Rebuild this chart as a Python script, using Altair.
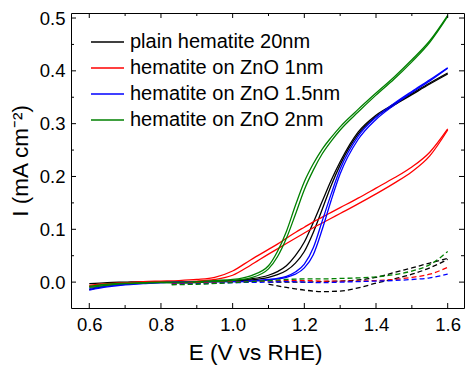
import altair as alt
import pandas as pd

# ---------------- data ----------------
series_names = ["plain hematite 20nm", "hematite on ZnO 1nm",
                "hematite on ZnO 1.5nm", "hematite on ZnO 2nm"]
series_colors = ["#000000", "#FF0000", "#0000FF", "#008000"]

# light (solid) curves: forward and reverse scan
E_light = [0.6, 0.65, 0.7, 0.75, 0.8, 0.85, 0.9, 0.95, 1.0, 1.05, 1.1, 1.125,
           1.15, 1.175, 1.2, 1.225, 1.25, 1.275, 1.3, 1.35, 1.4, 1.45, 1.5, 1.55, 1.6]

black_fwd = [-0.003, -0.001, 0.0, 0.001, 0.001, 0.001, 0.001, 0.002, 0.002, 0.004, 0.009, 0.014,
             0.022, 0.036, 0.058, 0.094, 0.138, 0.183, 0.222, 0.28, 0.313, 0.335, 0.355, 0.375, 0.394]
black_rev = [-0.014, -0.007, -0.003, -0.001, 0.0, 0.001, 0.001, 0.002, 0.003, 0.006, 0.013, 0.02,
             0.031, 0.05, 0.076, 0.113, 0.153, 0.193, 0.228, 0.284, 0.316, 0.337, 0.357, 0.377, 0.396]

red_fwd = [-0.008, -0.004, -0.002, 0.0, 0.001, 0.001, 0.002, 0.005, 0.013, 0.032, 0.053, 0.063,
           0.073, 0.083, 0.093, 0.103, 0.112, 0.121, 0.13, 0.148, 0.167, 0.187, 0.209, 0.239, 0.288]
red_rev = [-0.006, -0.003, -0.001, 0.001, 0.002, 0.003, 0.005, 0.009, 0.021, 0.042, 0.062, 0.072,
           0.083, 0.094, 0.104, 0.114, 0.123, 0.132, 0.141, 0.159, 0.178, 0.197, 0.218, 0.246, 0.29]

blue_fwd = [-0.015, -0.009, -0.005, -0.003, -0.001, 0.0, 0.0, 0.001, 0.001, 0.002, 0.004, 0.006,
            0.009, 0.015, 0.027, 0.052, 0.1, 0.155, 0.205, 0.27, 0.308, 0.335, 0.359, 0.381, 0.405]
blue_rev = [-0.012, -0.007, -0.004, -0.002, -0.001, 0.0, 0.0, 0.001, 0.001, 0.002, 0.005, 0.007,
            0.011, 0.019, 0.034, 0.065, 0.116, 0.167, 0.214, 0.276, 0.312, 0.338, 0.361, 0.383, 0.406]

green_fwd = [-0.01, -0.006, -0.003, -0.002, -0.001, -0.002, -0.001, 0.001, 0.003, 0.008, 0.025, 0.048,
             0.083, 0.128, 0.175, 0.212, 0.243, 0.267, 0.288, 0.322, 0.354, 0.384, 0.417, 0.454, 0.503]
green_rev = [-0.008, -0.004, -0.002, -0.001, 0.0, 0.0, 0.001, 0.003, 0.005, 0.012, 0.031, 0.058,
             0.096, 0.145, 0.19, 0.224, 0.252, 0.274, 0.294, 0.327, 0.358, 0.388, 0.421, 0.457, 0.505]

# dark (dashed) curves
E_dark = [0.83, 0.9, 1.0, 1.1, 1.15, 1.2, 1.25, 1.3, 1.35, 1.4, 1.45, 1.5, 1.55, 1.6]
red_dark = [-0.003, -0.002, 0.0, 0.002, 0.003, 0.003, 0.002, 0.002, 0.002, 0.003, 0.005, 0.009, 0.015, 0.028]
blue_dark = [-0.004, -0.003, -0.001, 0.0, 0.001, 0.0, -0.001, 0.0, 0.001, 0.002, 0.003, 0.005, 0.008, 0.015]
green_dark = [-0.005, -0.004, -0.001, 0.003, 0.005, 0.006, 0.006, 0.007, 0.008, 0.01, 0.014, 0.021, 0.033, 0.058]

E_dark_black = [1.1, 1.15, 1.2, 1.25, 1.3, 1.35, 1.4, 1.45, 1.5, 1.55, 1.6]
black_dark_fwd = [-0.004, -0.01, -0.015, -0.018, -0.017, -0.011, -0.002, 0.006, 0.015, 0.027, 0.043]
black_dark_rev = [0.0, 0.0, 0.0, 0.001, 0.002, 0.004, 0.009, 0.018, 0.027, 0.036, 0.045]

# axis ticks
x_major = [0.6, 0.8, 1.0, 1.2, 1.4, 1.6]
x_minor = [0.7, 0.9, 1.1, 1.3, 1.5]
y_major = [0.0, 0.1, 0.2, 0.3, 0.4, 0.5]
y_minor = [0.05, 0.15, 0.25, 0.35, 0.45]

# ---------------- tables ----------------
rows = []
light = [(series_names[0], black_fwd, black_rev), (series_names[1], red_fwd, red_rev),
         (series_names[2], blue_fwd, blue_rev), (series_names[3], green_fwd, green_rev)]
for k, (name, fwd, rev) in enumerate(light):
    for e, i in zip(E_light, fwd):
        rows.append({"series": name, "branch": f"{k}f", "E": e, "I": i})
    for e, i in zip(E_light, rev):
        rows.append({"series": name, "branch": f"{k}r", "E": e, "I": i})
df_light = pd.DataFrame(rows)

rows = []
for e, i in zip(E_dark_black, black_dark_fwd):
    rows.append({"series": series_names[0], "branch": "0f", "E": e, "I": i})
for e, i in zip(E_dark_black, black_dark_rev):
    rows.append({"series": series_names[0], "branch": "0r", "E": e, "I": i})
for k, arr in [(1, red_dark), (2, blue_dark), (3, green_dark)]:
    for e, i in zip(E_dark, arr):
        rows.append({"series": series_names[k], "branch": f"{k}f", "E": e, "I": i})
df_dark = pd.DataFrame(rows)

W, H = 393, 295
xscale = alt.Scale(domain=[0.549, 1.6455], nice=False, zero=False)
yscale = alt.Scale(domain=[-0.049, 0.5095], nice=False, zero=False)
cscale = alt.Scale(domain=series_names, range=series_colors)
XT = "E (V vs RHE)"
YT = "I (mA cm⁻²)"
xaxis = alt.Axis(values=x_major, format=".1f", titleX=184)
yaxis = alt.Axis(values=y_major, format=".1f")
# short symbol box (16 px) with a path reaching 33 px to the right
legend = alt.Legend(orient="none", legendX=18, legendY=19, title=None,
                    symbolType="M-1,0H3.125", symbolSize=256,
                    symbolStrokeWidth=1.5, labelFontSize=20, labelLimit=0,
                    labelOffset=21, rowPadding=6, padding=0)

solid = alt.Chart(df_light).mark_line(strokeWidth=1.3, interpolate="monotone").encode(
    x=alt.X("E:Q", scale=xscale, title=XT, axis=xaxis),
    y=alt.Y("I:Q", scale=yscale, title=YT, axis=yaxis),
    color=alt.Color("series:N", scale=cscale, sort=series_names, legend=legend),
    detail="branch:N",
)

dashed = alt.Chart(df_dark).mark_line(strokeWidth=1.3, strokeDash=[5, 3],
                                      interpolate="monotone").encode(
    x=alt.X("E:Q", scale=xscale, title=XT, axis=xaxis),
    y=alt.Y("I:Q", scale=yscale, title=YT, axis=yaxis),
    color=alt.Color("series:N", scale=cscale, sort=series_names, legend=legend),
    detail="branch:N",
)


def xticks(vals, length):
    d = pd.DataFrame({"v": vals})
    out = []
    for y0, y1 in [(H, H - length), (0, length)]:
        out.append(alt.Chart(d).mark_rule(color="black", strokeWidth=1).encode(
            x=alt.X("v:Q", scale=xscale, title=XT, axis=xaxis),
            y=alt.value(y0), y2=alt.value(y1)))
    return out


def yticks(vals, length):
    d = pd.DataFrame({"v": vals})
    out = []
    for x0, x1 in [(0, length), (W, W - length)]:
        out.append(alt.Chart(d).mark_rule(color="black", strokeWidth=1).encode(
            y=alt.Y("v:Q", scale=yscale, title=YT, axis=yaxis),
            x=alt.value(x0), x2=alt.value(x1)))
    return out


tick_layers = xticks(x_major, 5) + xticks(x_minor, 3) + yticks(y_major, 5) + yticks(y_minor, 3)

chart = alt.layer(solid, dashed, *tick_layers).properties(
    width=W, height=H,
    autosize=alt.AutoSizeParams(type="none"),
    padding={"left": 71, "top": 13, "right": 1, "bottom": 57},
).configure(
    font="Liberation Sans",
).configure_view(
    stroke="black", strokeWidth=1,
).configure_axis(
    domain=False, grid=False, ticks=False,
    labelColor="black", titleColor="black",
    labelFont="Liberation Sans", titleFont="Liberation Sans",
    labelFontSize=18.5, titleFontSize=22.5, titleFontWeight="normal",
).configure_axisX(
    labelPadding=7, titlePadding=8,
).configure_axisY(
    labelPadding=6, titlePadding=7,
).configure_legend(
    labelColor="black", labelFont="Liberation Sans",
)

chart.save("out.html", embed_options={"renderer": "svg", "actions": False})
